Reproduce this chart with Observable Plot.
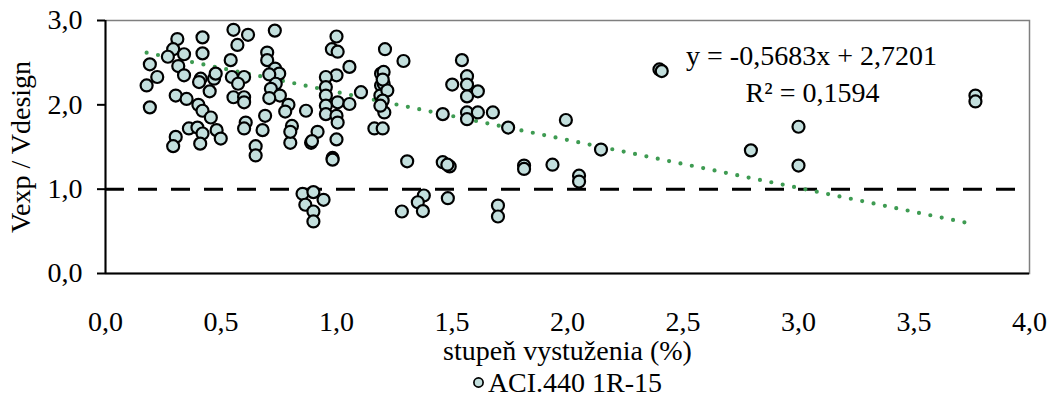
<!DOCTYPE html>
<html>
<head>
<meta charset="utf-8">
<script src="https://cdn.jsdelivr.net/npm/d3@7"></script>
<script src="https://cdn.jsdelivr.net/npm/@observablehq/plot@0.6"></script>
<style>
  html, body { margin: 0; padding: 0; background: #fff; }
  body { width: 1052px; height: 396px; overflow: hidden; font-family: "Liberation Serif", "Times New Roman", serif; position: relative; }
  #legend { position: absolute; left: 105px; width: 924px; top: 369px; height: 27px; display: flex; align-items: center; justify-content: center; font-size: 28px; line-height: 27px; color: #000; }
  #legend svg { margin-right: 3px; }
</style>
</head>
<body>
<div id="chart"></div>
<div id="legend"></div>
<script>
// reinforcement ratio (%)
const ratio = [
  0.554, 0.617, 0.311, 0.420, 0.571, 0.293, 0.340, 0.270, 0.420, 0.315,
  0.192, 0.542, 0.224, 0.340, 0.178, 0.412, 0.405, 0.470, 0.477, 0.547,
  0.600, 0.574, 0.451, 0.304, 0.351, 0.402, 0.420, 0.456, 0.192, 0.554,
  0.600, 0.600, 0.607, 0.600, 0.361, 0.398, 0.481, 0.420, 0.304, 0.499,
  0.293, 0.410, 0.650, 0.650, 0.800, 0.890, 0.983, 0.983, 0.853, 0.900,
  0.944, 0.865, 0.900, 0.900, 0.733, 1.000, 0.980, 1.005, 0.700, 0.700,
  0.734, 0.752, 0.709, 1.056, 1.210, 1.000, 0.954, 0.737, 0.716, 0.755,
  0.709, 0.954, 0.954, 1.005, 1.056, 0.954, 1.106, 1.193, 1.193, 1.190,
  0.792, 0.778, 0.868, 0.954, 1.000, 1.005, 0.691, 0.680, 0.807, 0.800,
  0.918, 1.000, 0.894, 1.164, 1.200, 1.290, 1.543, 1.204, 1.204, 1.220,
  1.565, 1.501, 1.565, 1.612, 1.565, 1.207, 1.460, 1.565, 1.565, 1.612,
  1.677, 1.743, 1.200, 1.200, 1.190, 1.993, 2.145, 1.812, 1.812, 1.935,
  2.050, 2.050, 1.306, 1.460, 1.490, 1.480, 1.378, 1.352, 1.374, 1.283,
  1.482, 1.699, 1.699, 2.398, 2.408, 2.794, 3.000, 3.000, 3.766, 3.766
];
// Vexp / Vdesign
const vratio = [
  2.89, 2.83, 2.78, 2.80, 2.71, 2.66, 2.60, 2.57, 2.61, 2.46,
  2.48, 2.53, 2.33, 2.35, 2.23, 2.31, 2.27, 2.31, 2.37, 2.33,
  2.33, 2.25, 2.16, 2.11, 2.07, 2.00, 1.93, 1.85, 1.97, 2.09,
  2.09, 2.03, 1.79, 1.72, 1.72, 1.73, 1.70, 1.66, 1.62, 1.60,
  1.51, 1.54, 1.51, 1.40, 1.55, 1.55, 1.37, 1.35, 0.945, 0.965,
  0.874, 0.815, 0.735, 0.617, 2.88, 2.81, 2.66, 2.63, 2.62, 2.53,
  2.43, 2.37, 2.36, 2.45, 2.66, 2.35, 2.33, 2.25, 2.19, 2.11,
  2.08, 2.21, 2.11, 2.03, 2.01, 1.99, 2.15, 2.37, 2.23, 2.11,
  2.00, 1.92, 1.93, 1.89, 1.87, 1.79, 1.87, 1.70, 1.75, 1.68,
  1.68, 1.59, 1.57, 1.72, 1.72, 2.52, 2.53, 2.39, 2.25, 2.17,
  2.34, 2.24, 2.24, 2.16, 2.10, 1.91, 1.89, 1.91, 1.83, 1.91,
  1.91, 1.73, 2.30, 2.05, 1.99, 1.82, 1.47, 1.28, 1.24, 1.29,
  1.16, 1.09, 1.33, 1.32, 1.27, 1.29, 0.925, 0.845, 0.74, 0.735,
  0.893, 0.806, 0.676, 2.42, 2.40, 1.46, 1.74, 1.28, 2.11, 2.04
];
const seriesName = "ACI.440 1R-15";
const xTicks = [0, 0.5, 1, 1.5, 2, 2.5, 3, 3.5, 4];
const yTicks = [0, 1, 2, 3];
const limitValue = [1];
const slope = -0.5683;
const intercept = 2.7201;
const equationText = ["y = -0,5683x + 2,7201"];
const r2Text = ["R² = 0,1594"];
const xTitle = "stupeň vystuženia (%)";
const yTitle = ["Vexp / Vdesign"];

const points = ratio.map((r, i) => ({x: r, y: vratio[i]}));
const xExt = d3.extent(ratio);
const trend = xExt.map(x => ({x, y: slope * x + intercept}));
const fmt = d => d.toFixed(1).replace(".", ",");

const fill = "#c3dfdd";
const font = "'Liberation Serif', 'Times New Roman', serif";

const chart = Plot.plot({
  width: 1052,
  height: 369,
  marginLeft: 105,
  marginRight: 23,
  marginTop: 20,
  marginBottom: 96,
  style: {fontFamily: font, fontSize: "28px", color: "#000", background: "#fff", overflow: "visible"},
  x: {domain: [0, 4]},
  y: {domain: [0, 3]},
  marks: [
    Plot.frame({stroke: "#7f7f7f", strokeWidth: 1.5}),
    Plot.ruleY(limitValue, {stroke: "#000", strokeWidth: 3, strokeDasharray: "19,14"}),
    Plot.line(trend, {x: "x", y: "y", stroke: "#3e9b52", strokeWidth: 4.2, strokeDasharray: "0,11.6", strokeLinecap: "round"}),
    Plot.dot(points, {x: "x", y: "y", r: 6, fill: fill, stroke: "#000", strokeWidth: 2.2}),
    Plot.axisX({ticks: xTicks, tickFormat: fmt, tickSize: 0, tickPadding: 38, fontSize: 28,
      label: xTitle, labelAnchor: "center", labelArrow: "none", labelOffset: 86}),
    Plot.axisY({ticks: yTicks, tickFormat: fmt, tickSize: 8, tickPadding: 15, strokeWidth: 2, fontSize: 28,
      label: null}),
    Plot.text(yTitle, {frameAnchor: "left", textAnchor: "middle", dx: -84, rotate: -90, fontSize: 28, fill: "#000"}),
    Plot.ruleX([0], {stroke: "#000", strokeWidth: 2}),
    Plot.ruleY([0], {stroke: "#000", strokeWidth: 2}),
    Plot.text(equationText, {frameAnchor: "top", dx: 244, dy: 36, fontSize: 28, fill: "#000", lineAnchor: "middle"}),
    Plot.text(r2Text, {frameAnchor: "top", dx: 245, dy: 73, fontSize: 28, fill: "#000", lineAnchor: "middle"})
  ]
});
document.getElementById("chart").appendChild(chart);

const legend = document.getElementById("legend");
legend.innerHTML = `<svg width="13" height="13"><circle cx="6.5" cy="6.5" r="4.6" fill="${fill}" stroke="#000" stroke-width="1.7"/></svg><span>${seriesName}</span>`;
</script>
</body>
</html>
